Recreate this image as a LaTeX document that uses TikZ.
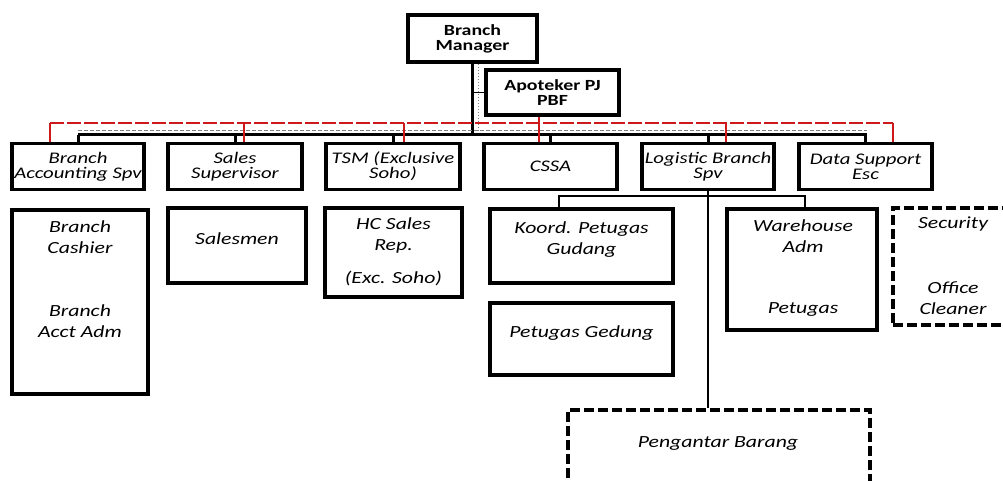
\documentclass[tikz,border=0pt]{standalone}
\usepackage{fontspec}
\setmainfont{Carlito}[FakeStretch=1.28]
\usetikzlibrary{positioning}
\definecolor{busred}{RGB}{205,25,25}
\tikzset{box/.style={draw,line width=3.5pt,inner sep=0pt,align=center,font=\itshape\fontsize{16.2}{15}\selectfont},
         head/.style={box,font=\bfseries\fontsize{15.5}{15}\selectfont},
         dbox/.style={draw,line width=3.5pt,dash pattern=on 10pt off 4pt},
         txt/.style={align=center,inner sep=0pt,font=\itshape\fontsize{17}{21}\selectfont},
         bus/.style={line width=3pt},
         rbus/.style={busred,line width=1.3pt,dash pattern=on 14pt off 3pt},
         rstub/.style={busred,line width=1.8pt},
         thin/.style={line width=1.5pt}}
\begin{document}
\begin{tikzpicture}[x=1pt,y=-1pt]
    \useasboundingbox (0,0) rectangle (1003,481);
    % head
    \node[head, minimum width=129pt, minimum height=47pt](bm)at(472.5,38.5){Branch\\Manager};
    \node[head, minimum width=133pt, minimum height=45pt](apt)at(552.5,92.5){Apoteker PJ\\PBF};

    % first row
    \node[box, minimum width=132pt, minimum height=46pt](bacc)at(78,166.5){Branch\\Accounting Spv};
    \node[box, minimum width=134pt, minimum height=46pt](sales)at(235,166.5){Sales\\Supervisor};
    \node[box, minimum width=134pt, minimum height=46pt](tsm)at(393,166.5){TSM (Exclusive\\Soho)};
    \node[box, minimum width=133pt, minimum height=46pt](cssa)at(550.5,166.5){CSSA};
    \node[box, minimum width=132pt, minimum height=46pt](logi)at(708,166.5){Logistic Branch\\Spv};
    \node[box, minimum width=133pt, minimum height=46pt](data)at(865.5,166.5){Data Support\\Esc};

    % second row
    \node[box, minimum width=136pt, minimum height=184pt](cash)at(80,302){};
    \node[txt](cash1)at(80,237){Branch\\Cashier};
    \node[txt](cash2)at(80,321){Branch\\Acct Adm};
    \node[box, minimum width=138pt, minimum height=75pt](salesm)at(237,245.5){};
    \node[txt](salesm1)at(237,239){Salesmen};
    \node[box, minimum width=137pt, minimum height=89pt](hc)at(393.5,252.5){};
    \node[txt](hc1)at(393.5,235){HC Sales\\Rep.};
    \node[txt](hc2)at(393.5,278){(Exc. Soho)};
    \node[box, minimum width=183pt, minimum height=74pt](koord)at(581.5,246){};
    \node[txt](koord1)at(581.5,240){Koord. Petugas\\Gudang};
    \node[box, minimum width=183pt, minimum height=72pt](gedung)at(581.5,339){};
    \node[txt](gedung1)at(581.5,333){Petugas Gedung};
    \node[box, minimum width=150pt, minimum height=121pt](wh)at(802,269.5){};
    \node[txt](wh1)at(803,236){Warehouse\\Adm};
    \node[txt](wh2)at(803,310){Petugas};
    \node[dbox, minimum width=120pt, minimum height=117pt](sec)at(953,266.5){};
    \node[txt](sec1)at(953,224){Security};
    \node[txt](sec2)at(953,298){Office\\Cleaner};
    \node[dbox, minimum width=302pt, minimum height=80pt](peng)at(719,450){};
    \node[txt](peng1)at(718,443){Pengantar Barang};

    % solid lines
    \coordinate(busL)at(78,135);
    \coordinate(busR)at(867,135);
    \draw[bus](bm.south)--(bm.south |- busL);
    \draw[gray,line width=1pt,dotted]([xshift=6pt]bm.south)--([xshift=6pt]bm.south |- busL);
    \draw[thin](bm.south |- apt.west)--(apt.west);
    \draw[bus](busL)--(busR);
    \draw[gray,line width=1pt,dash pattern=on 4pt off 2pt]([yshift=4pt]busL)--([yshift=4pt]busR);
    \foreach \n in {bacc,sales,tsm,cssa,logi,data}
        \draw[bus](\n.north |- busL)--(\n.north);

    % red lines
    \coordinate(redL)at(50,123);
    \coordinate(redR)at(893,123);
    \draw[rbus](redL)--(redR);
    \draw[rstub](redL)--(redL |- bacc.north);
    \draw[rstub](redR)--(redR |- data.north);
    \coordinate(rs)at(244,123);
    \coordinate(rt)at(404,123);
    \coordinate(rl)at(726,123);
    \draw[rstub](rs)--(rs |- sales.north);
    \draw[rstub](rt)--(rt |- tsm.north);
    \draw[rstub](rl)--(rl |- logi.north);
    \coordinate(ra)at([xshift=-13.5pt]apt.south);
    \draw[rstub](ra)--(ra |- cssa.north);

    % logistic
    \coordinate(split)at(708,196);
    \coordinate(kd)at([xshift=-22.5pt]koord.north);
    \coordinate(wd)at([xshift=3pt]wh.north);
    \draw[thin](logi.south)--(logi.south |- peng.north);
    \draw[thin](kd)|-(split)-|(wd);
\end{tikzpicture}
\end{document}
